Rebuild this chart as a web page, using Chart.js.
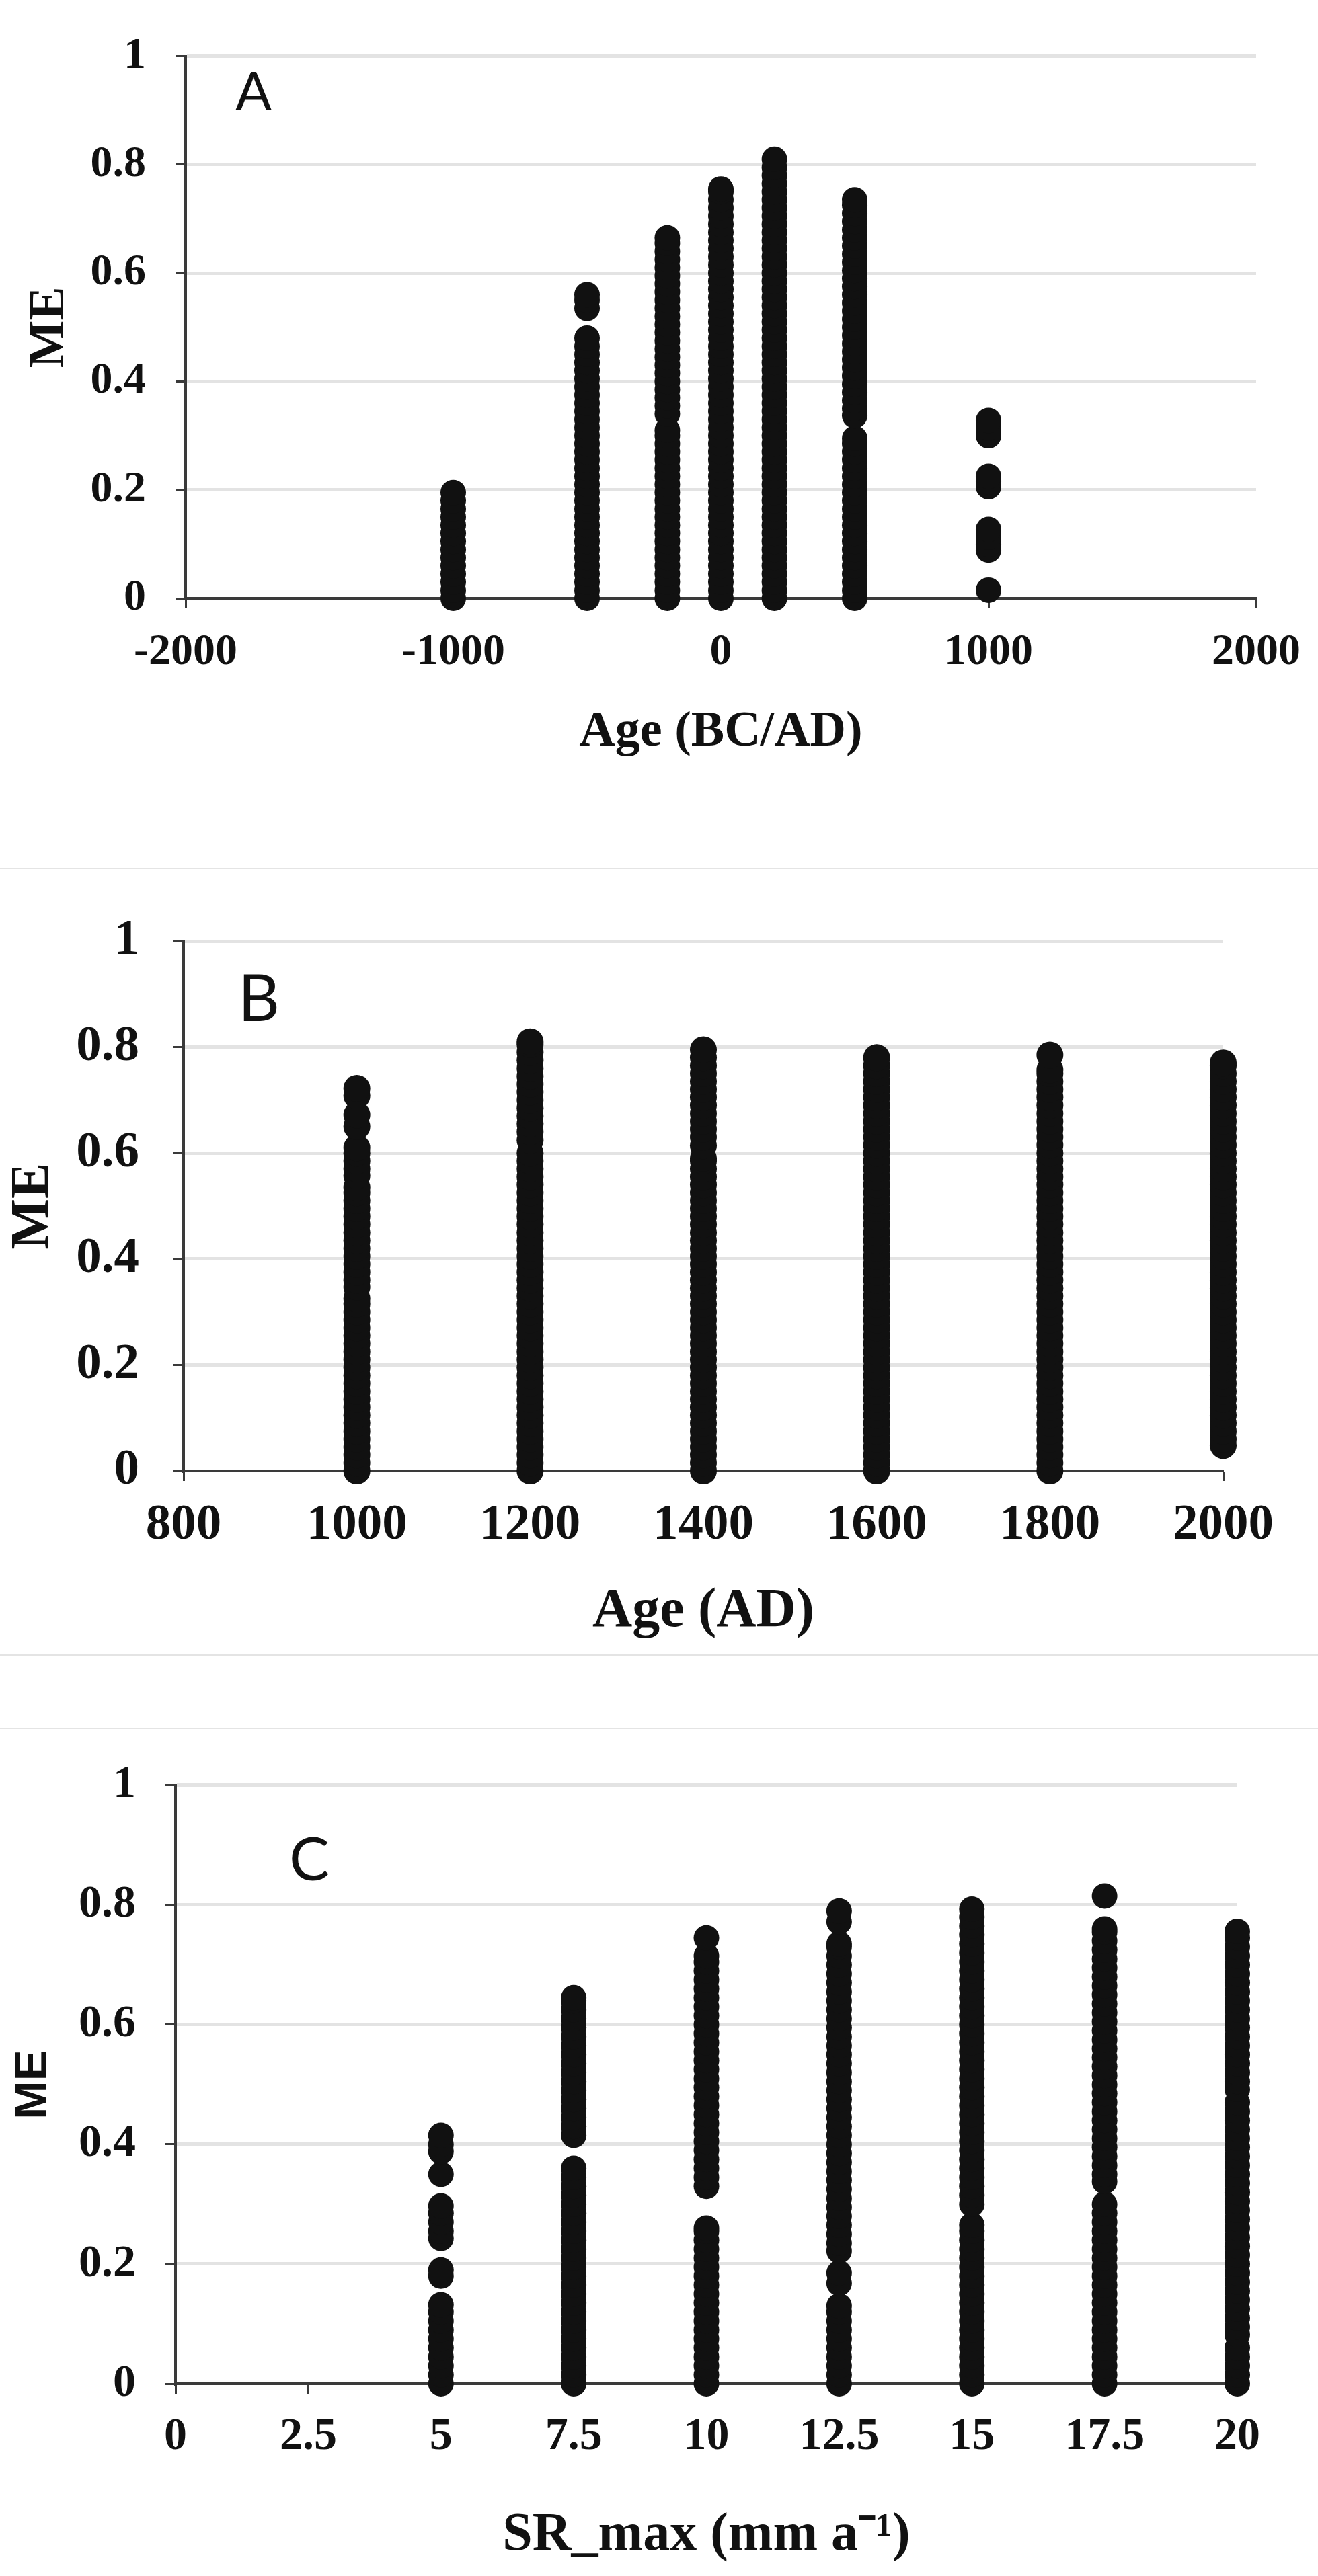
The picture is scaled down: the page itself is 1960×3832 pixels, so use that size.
<!DOCTYPE html>
<html>
<head>
  <title>ME vs Age and SR_max</title>
  <script src="https://cdn.jsdelivr.net/npm/chart.js"></script>
  <style>
    body { margin: 0; background: #fff; }
    #page { position: relative; width: 1960px; height: 3832px; overflow: hidden; background: #fff; }
    canvas { position: absolute; left: 0; }
    .sep { position: absolute; left: 0; width: 1960px; height: 2px; background: #e4e4e4; z-index: 2; }
  </style>
</head>
<body>
<div id="page">
  <canvas id="chartA" width="1960" height="1292" style="top:0px;width:1960px;height:1292px"></canvas>
  <div class="sep" style="top:1291px"></div>
  <canvas id="chartB" width="1960" height="1170" style="top:1292px;width:1960px;height:1170px"></canvas>
  <div class="sep" style="top:2461px"></div>
  <div class="sep" style="top:2570px"></div>
  <canvas id="chartC" width="1960" height="1261" style="top:2571px;width:1960px;height:1261px"></canvas>
</div>

<script>
  // ---- panel A : Age (BC/AD) ----
  const ageA = [-1000, -500, -200, 0, 200, 500, 1000];
  const meA_m1000 = [0, 0.015, 0.03, 0.045, 0.06, 0.075, 0.09, 0.105, 0.12, 0.135, 0.15, 0.165, 0.18, 0.195];
  const meA_m500 = [0, 0.015, 0.03, 0.045, 0.06, 0.075, 0.09, 0.105, 0.12, 0.135, 0.15, 0.165, 0.18, 0.195, 0.21, 0.225, 0.24, 0.255, 0.27, 0.285, 0.3, 0.315, 0.33, 0.345, 0.36, 0.375, 0.39, 0.405, 0.42, 0.435, 0.45, 0.465, 0.48,
    0.535, 0.55, 0.56];
  const meA_m200 = [0, 0.015, 0.03, 0.045, 0.06, 0.075, 0.09, 0.105, 0.12, 0.135, 0.15, 0.165, 0.18, 0.195, 0.21, 0.225, 0.24, 0.255, 0.27, 0.285, 0.3, 0.31,
    0.34, 0.355, 0.37, 0.385, 0.4, 0.415, 0.43, 0.445, 0.46, 0.475, 0.49, 0.505, 0.52, 0.535, 0.55, 0.565, 0.58, 0.595, 0.61, 0.625, 0.64, 0.655, 0.665];
  const meA_0 = [0, 0.015, 0.03, 0.045, 0.06, 0.075, 0.09, 0.105, 0.12, 0.135, 0.15, 0.165, 0.18, 0.195, 0.21, 0.225, 0.24, 0.255, 0.27, 0.285, 0.3, 0.315, 0.33, 0.345, 0.36, 0.375, 0.39, 0.405, 0.42, 0.435, 0.45, 0.465, 0.48, 0.495, 0.51, 0.525, 0.54, 0.555, 0.57, 0.585, 0.6, 0.615, 0.63, 0.645, 0.66, 0.675, 0.69, 0.705, 0.72, 0.735, 0.75, 0.755];
  const meA_200 = [0, 0.015, 0.03, 0.045, 0.06, 0.075, 0.09, 0.105, 0.12, 0.135, 0.15, 0.165, 0.18, 0.195, 0.21, 0.225, 0.24, 0.255, 0.27, 0.285, 0.3, 0.315, 0.33, 0.345, 0.36, 0.375, 0.39, 0.405, 0.42, 0.435, 0.45, 0.465, 0.48, 0.495, 0.51, 0.525, 0.54, 0.555, 0.57, 0.585, 0.6, 0.615, 0.63, 0.645, 0.66, 0.675, 0.69, 0.705, 0.72, 0.735, 0.75, 0.765, 0.78, 0.795, 0.81];
  const meA_500 = [0, 0.015, 0.03, 0.045, 0.06, 0.075, 0.09, 0.105, 0.12, 0.135, 0.15, 0.165, 0.18, 0.195, 0.21, 0.225, 0.24, 0.255, 0.27, 0.285, 0.295,
    0.337, 0.35, 0.365, 0.38, 0.395, 0.41, 0.425, 0.44, 0.455, 0.47, 0.485, 0.5, 0.515, 0.53, 0.545, 0.56, 0.575, 0.59, 0.605, 0.62, 0.635, 0.65, 0.665, 0.68, 0.695, 0.71, 0.725, 0.735];
  const meA_1000 = [0.015, 0.089, 0.1, 0.113, 0.127, 0.206, 0.215, 0.225, 0.3, 0.314, 0.328];
  const meA = [meA_m1000, meA_m500, meA_m200, meA_0, meA_200, meA_500, meA_1000];

  // ---- panel B : Age (AD) ----
  const ageB = [1000, 1200, 1400, 1600, 1800, 2000];
  const meB_1000 = [0, 0.015, 0.03, 0.045, 0.06, 0.075, 0.09, 0.105, 0.12, 0.135, 0.15, 0.165, 0.18, 0.195, 0.21, 0.225, 0.24, 0.255, 0.27, 0.285, 0.3, 0.315, 0.325,
    0.347, 0.36, 0.375, 0.39, 0.405, 0.42, 0.435, 0.45, 0.465, 0.48, 0.495, 0.51, 0.525, 0.535,
    0.557, 0.57, 0.585, 0.6, 0.61, 0.65, 0.672, 0.708, 0.722];
  const meB_1200 = [0, 0.015, 0.03, 0.045, 0.06, 0.075, 0.09, 0.105, 0.12, 0.135, 0.15, 0.165, 0.18, 0.195, 0.21, 0.225, 0.24, 0.255, 0.27, 0.285, 0.3, 0.315, 0.33, 0.345, 0.36, 0.375, 0.39, 0.405, 0.42, 0.435, 0.45, 0.465, 0.48, 0.495, 0.51, 0.525, 0.54, 0.555, 0.57, 0.585, 0.6,
    0.624, 0.64, 0.655, 0.67, 0.685, 0.7, 0.715, 0.73, 0.745, 0.76, 0.775, 0.79, 0.805, 0.81];
  const meB_1400 = [0, 0.015, 0.03, 0.045, 0.06, 0.075, 0.09, 0.105, 0.12, 0.135, 0.15, 0.165, 0.18, 0.195, 0.21, 0.225, 0.24, 0.255, 0.27, 0.285, 0.3, 0.315, 0.33, 0.345, 0.36, 0.375, 0.39, 0.405, 0.42, 0.435, 0.45, 0.465, 0.48, 0.495, 0.51, 0.525, 0.54, 0.555, 0.57, 0.585, 0.59,
    0.614, 0.63, 0.645, 0.66, 0.675, 0.69, 0.705, 0.72, 0.735, 0.75, 0.765, 0.78, 0.795];
  const meB_1600 = [0, 0.015, 0.03, 0.045, 0.06, 0.075, 0.09, 0.105, 0.12, 0.135, 0.15, 0.165, 0.18, 0.195, 0.21, 0.225, 0.24, 0.255, 0.27, 0.285, 0.3, 0.315, 0.33, 0.345, 0.36, 0.375, 0.39, 0.405, 0.42, 0.435, 0.45, 0.465, 0.48, 0.495, 0.51, 0.525, 0.54, 0.555, 0.57, 0.585, 0.6, 0.615, 0.63, 0.645, 0.66, 0.675, 0.69, 0.705, 0.72, 0.735, 0.75, 0.765, 0.78];
  const meB_1800 = [0, 0.015, 0.03, 0.045, 0.06, 0.075, 0.09, 0.105, 0.12, 0.135, 0.15, 0.165, 0.18, 0.195, 0.21, 0.225, 0.24, 0.255, 0.27, 0.285, 0.3, 0.315, 0.33, 0.345, 0.36, 0.375, 0.39, 0.405, 0.42, 0.435, 0.45, 0.465, 0.48, 0.495, 0.51, 0.525, 0.54, 0.555, 0.57, 0.585, 0.6, 0.615, 0.63, 0.645, 0.66, 0.675, 0.69, 0.705, 0.72, 0.735, 0.75, 0.757, 0.785];
  const meB_2000 = [0.048, 0.06, 0.075, 0.09, 0.105, 0.12, 0.135, 0.15, 0.165, 0.18, 0.195, 0.21, 0.225, 0.24, 0.255, 0.27, 0.285, 0.3, 0.315, 0.33, 0.345, 0.36, 0.375, 0.39, 0.405, 0.42, 0.435, 0.45, 0.465, 0.48, 0.495, 0.51, 0.525, 0.54, 0.555, 0.57, 0.585, 0.6, 0.615, 0.63, 0.645, 0.66, 0.675, 0.69, 0.705, 0.72, 0.735, 0.75, 0.765, 0.77];
  const meB = [meB_1000, meB_1200, meB_1400, meB_1600, meB_1800, meB_2000];

  // ---- panel C : SR_max ----
  const srC = [5, 7.5, 10, 12.5, 15, 17.5, 20];
  const meC_5 = [0, 0.015, 0.03, 0.045, 0.06, 0.075, 0.09, 0.105, 0.12, 0.132, 0.18, 0.19, 0.243, 0.255, 0.27, 0.285, 0.297, 0.35, 0.388, 0.4, 0.415];
  const meC_7_5 = [0, 0.015, 0.03, 0.045, 0.06, 0.075, 0.09, 0.105, 0.12, 0.135, 0.15, 0.165, 0.18, 0.195, 0.21, 0.225, 0.24, 0.255, 0.27, 0.285, 0.3, 0.315, 0.33, 0.345, 0.36,
    0.415, 0.43, 0.445, 0.46, 0.475, 0.49, 0.505, 0.52, 0.535, 0.55, 0.565, 0.58, 0.595, 0.61, 0.625, 0.64, 0.645];
  const meC_10 = [0, 0.015, 0.03, 0.045, 0.06, 0.075, 0.09, 0.105, 0.12, 0.135, 0.15, 0.165, 0.18, 0.195, 0.21, 0.225, 0.24, 0.255, 0.26,
    0.33, 0.345, 0.36, 0.375, 0.39, 0.405, 0.42, 0.435, 0.45, 0.465, 0.48, 0.495, 0.51, 0.525, 0.54, 0.555, 0.57, 0.585, 0.6, 0.615, 0.63, 0.645, 0.66, 0.675, 0.69, 0.705, 0.715, 0.745];
  const meC_12_5 = [0, 0.015, 0.03, 0.045, 0.06, 0.075, 0.09, 0.105, 0.12, 0.13, 0.168, 0.185,
    0.222, 0.235, 0.25, 0.265, 0.28, 0.295, 0.31, 0.325, 0.34, 0.355, 0.37, 0.385, 0.4, 0.415, 0.43, 0.445, 0.46, 0.475, 0.49, 0.505, 0.52, 0.535, 0.55, 0.565, 0.58, 0.595, 0.61, 0.625, 0.64, 0.655, 0.67, 0.685, 0.7, 0.715, 0.73, 0.735,
    0.772, 0.79];
  const meC_15 = [0, 0.015, 0.03, 0.045, 0.06, 0.075, 0.09, 0.105, 0.12, 0.135, 0.15, 0.165, 0.18, 0.195, 0.21, 0.225, 0.24, 0.255, 0.265,
    0.3, 0.315, 0.33, 0.345, 0.36, 0.375, 0.39, 0.405, 0.42, 0.435, 0.45, 0.465, 0.48, 0.495, 0.51, 0.525, 0.54, 0.555, 0.57, 0.585, 0.6, 0.615, 0.63, 0.645, 0.66, 0.675, 0.69, 0.705, 0.72, 0.735, 0.75, 0.765, 0.78, 0.793];
  const meC_17_5 = [0, 0.015, 0.03, 0.045, 0.06, 0.075, 0.09, 0.105, 0.12, 0.135, 0.15, 0.165, 0.18, 0.195, 0.21, 0.225, 0.24, 0.255, 0.27, 0.285, 0.3,
    0.338, 0.35, 0.365, 0.38, 0.395, 0.41, 0.425, 0.44, 0.455, 0.47, 0.485, 0.5, 0.515, 0.53, 0.545, 0.56, 0.575, 0.59, 0.605, 0.62, 0.635, 0.65, 0.665, 0.68, 0.695, 0.71, 0.725, 0.74, 0.755, 0.76,
    0.815];
  const meC_20 = [0, 0.015, 0.03, 0.045, 0.06, 0.082, 0.095, 0.11, 0.125, 0.14, 0.155, 0.17, 0.185, 0.2, 0.215, 0.23, 0.245, 0.26, 0.275, 0.29, 0.305, 0.32, 0.335, 0.35, 0.365, 0.38, 0.395, 0.41, 0.425, 0.44, 0.455, 0.47,
    0.492, 0.505, 0.52, 0.535, 0.55, 0.565, 0.58, 0.595, 0.61, 0.625, 0.64, 0.655, 0.67, 0.685, 0.7, 0.715, 0.73, 0.745, 0.756];
  const meC = [meC_5, meC_7_5, meC_10, meC_12_5, meC_15, meC_17_5, meC_20];

  const SERIF = "'Liberation Serif', 'Times New Roman', serif";
  const AXIS = '#3a3a3a';

  // draws the A / B / C panel letter
  const panelLetter = {
    id: 'panelLetter',
    afterDraw(chart, args, opts) {
      const ctx = chart.ctx;
      ctx.save();
      ctx.font = opts.size + "px Lato, 'Open Sans', sans-serif";
      ctx.fillStyle = '#111';
      ctx.textAlign = 'center';
      ctx.textBaseline = 'middle';
      ctx.fillText(opts.text, opts.x, opts.y);
      ctx.restore();
    }
  };

  function makePanel(id, xs, ys, c) {
    const points = [];
    xs.forEach((x, i) => ys[i].forEach(y => points.push({ x: x, y: y })));

    return new Chart(document.getElementById(id), {
      type: 'scatter',
      data: {
        datasets: [{
          data: points,
          pointRadius: c.r,
          pointHoverRadius: c.r,
          pointBackgroundColor: '#111',
          pointBorderColor: '#111',
          pointBorderWidth: 0,
          clip: false
        }]
      },
      options: {
        responsive: false,
        animation: false,
        devicePixelRatio: 1,
        events: [],
        layout: { padding: { top: c.top, right: c.right, left: 0, bottom: 0 } },
        plugins: {
          legend: { display: false },
          tooltip: { enabled: false },
          panelLetter: c.letter
        },
        scales: {
          x: {
            type: 'linear',
            min: c.xMin, max: c.xMax,
            afterFit: s => { s.height = c.xh; },
            ticks: {
              stepSize: c.xStep, autoSkip: false, maxRotation: 0,
              padding: c.xPad, color: '#111',
              font: { family: SERIF, size: c.tick, weight: 'bold' },
              callback: v => String(Math.round(v * 10) / 10)
            },
            grid: { drawOnChartArea: false, tickLength: 15, tickColor: AXIS, tickWidth: 3 },
            border: { color: AXIS, width: 4 },
            title: {
              display: true, text: c.xTitle, color: '#111',
              font: { family: SERIF, size: c.xTitleSize, weight: 'bold' },
              padding: { top: 0, bottom: c.xTitlePad }
            }
          },
          y: {
            min: 0, max: 1,
            afterFit: s => { s.width = c.yw; },
            ticks: {
              stepSize: 0.2, padding: c.yPad, color: '#111',
              font: { family: SERIF, size: c.tick, weight: 'bold' },
              callback: v => String(Math.round(v * 10) / 10)
            },
            grid: {
              color: ctx => ctx.tick && ctx.tick.value === 0 ? 'rgba(0,0,0,0)' : '#e3e3e3',
              lineWidth: 5, tickLength: 15, tickColor: AXIS, tickWidth: 3
            },
            border: { color: AXIS, width: 4 },
            title: {
              display: true, text: 'ME', color: '#111',
              font: { family: c.yTitleFont, size: c.yTitleSize, weight: 'bold' },
              padding: { top: c.yTitlePad, bottom: 0 }
            }
          }
        }
      },
      plugins: [panelLetter]
    });
  }

  makePanel('chartA', ageA, meA, {
    r: 19, top: 45, right: 86, yw: 276, xh: 402,
    xMin: -2000, xMax: 2000, xStep: 1000,
    tick: 66, xPad: 26, yPad: 44,
    xTitle: 'Age (BC/AD)', xTitleSize: 74, xTitlePad: 158,
    yTitleFont: SERIF, yTitleSize: 75, yTitlePad: 30,
    letter: { text: 'A', x: 377, y: 138, size: 80 }
  });

  makePanel('chartB', ageB, meB, {
    r: 20, top: 108, right: 141, yw: 273, xh: 274,
    xMin: 800, xMax: 2000, xStep: 200,
    tick: 75, xPad: 22, yPad: 51,
    xTitle: 'Age (AD)', xTitleSize: 82, xTitlePad: 15,
    yTitleFont: SERIF, yTitleSize: 80, yTitlePad: 2,
    letter: { text: 'B', x: 385, y: 196, size: 96 }
  });

  makePanel('chartC', srC, meC, {
    r: 19, top: 82, right: 120, yw: 261, xh: 286,
    xMin: 0, xMax: 20, xStep: 2.5,
    tick: 68, xPad: 24, yPad: 44,
    xTitle: 'SR_max (mm a⁻¹)', xTitleSize: 80, xTitlePad: 12,
    yTitleFont: "'Liberation Sans', Arial, sans-serif", yTitleSize: 69, yTitlePad: 9,
    letter: { text: 'C', x: 460, y: 197, size: 90 }
  });
</script>
</body>
</html>
